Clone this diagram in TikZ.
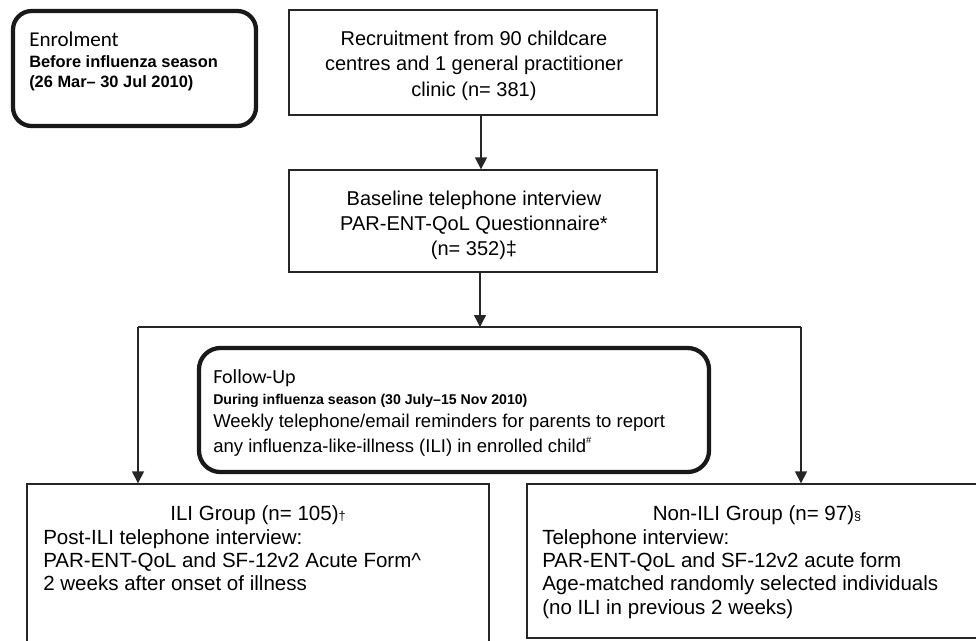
\documentclass[tikz,border=0pt]{standalone}
\usepackage{fontspec}
\setmainfont{Liberation Sans}
\newfontfamily\calib{Carlito}
\usetikzlibrary{arrows.meta,fit}
\tikzset{
  box/.style={draw=black!85, line width=1pt, inner sep=0pt},
  rbox/.style={draw=black!90, line width=3.2pt, rounded corners=14pt, inner sep=0pt},
  arr/.style={draw=black!85, line width=1pt, -{Triangle[width=9pt,length=9pt]}},
  ln/.style={draw=black!85, line width=1pt},
  tx/.style={inner sep=0pt, font=\fontsize{15}{18}\selectfont},
  txs/.style={inner sep=0pt, font=\fontsize{15.4}{18}\selectfont},
  txf/.style={inner sep=0pt, font=\fontsize{13.9}{17}\selectfont},
  hd/.style={inner sep=0pt, font=\calib\fontsize{15.8}{18}\selectfont},
  bd/.style={inner sep=0pt, font=\bfseries\fontsize{12.3}{15}\selectfont},
  bds/.style={inner sep=0pt, font=\bfseries\fontsize{10.6}{13}\selectfont}
}
\newcommand{\smallmark}[1]{{\fontsize{9.5}{10}\selectfont #1}}
\begin{document}
\begin{tikzpicture}[x=0.75pt,y=-0.75pt]
\useasboundingbox (0,0) rectangle (976,640);
% boxes
\node[rbox, fit={(13,11) (256,126)}] (enrol) {};
\node[box, fit={(289,10) (657,115)}] (recruit) {};
\node[box, fit={(289,170) (657,272)}] (base) {};
\node[rbox, rounded corners=16pt, fit={(199,348) (709,472)}] (follow) {};
\node[box, fit={(27,484) (489,690)}] (ili) {};
\node[box, fit={(527,484) (995,638)}] (nonili) {};
% connectors
\coordinate (c1) at (481,0);
\coordinate (splitL) at (138,327);
\coordinate (splitM) at (480,327);
\coordinate (splitR) at (801,327);
\draw[arr] (recruit.south -| c1) -- (base.north -| c1);
\draw[arr] (base.south -| splitM) -- (splitM);
\draw[ln] (splitL) -- (splitR);
\draw[arr] (splitL) -- (ili.north -| splitL);
\draw[arr] (splitR) -- (nonili.north -| splitR);
% enrolment text
\node[hd, anchor=base west] (en1) at (29,46) {Enrolment};
\node[bd, anchor=base west] (en2) at (29,67) {Before influenza season};
\node[bd, anchor=base west] (en3) at (29,87) {(26 Mar– 30 Jul 2010)};
% recruitment text
\node[tx, anchor=base] (r1) at (474,45) {Recruitment from 90 childcare};
\node[tx, anchor=base] (r2) at (474,70.5) {centres and 1 general practitioner};
\node[tx, anchor=base] (r3) at (474,96) {clinic (n= 381)};
% baseline text
\node[tx, anchor=base] (b1) at (474,205) {Baseline telephone interview};
\node[tx, anchor=base] (b2) at (474,230) {PAR-ENT-QoL Questionnaire*};
\node[tx, anchor=base] (b3) at (474,255) {(n= 352)‡};
% follow-up text
\node[hd, font=\calib\fontsize{15}{18}\selectfont, anchor=base west] (f1) at (213,383) {Follow-Up};
\node[bds, anchor=base west] (f2) at (213,404) {During influenza season (30 July–15 Nov 2010)};
\node[txf, anchor=base west] (f3) at (213,427) {Weekly telephone/email reminders for parents to report};
\node[txf, anchor=base west] (f4) at (213,452) {any influenza-like-illness (ILI) in enrolled child\raisebox{0.45em}{\fontsize{7}{8}\selectfont\#}};
% ILI text
\node[txs, anchor=base] (i1) at (258,520) {ILI Group (n= 105)\smallmark{†}};
\node[txs, anchor=base west] (i2) at (43,544) {Post-ILI telephone interview:};
\node[txs, anchor=base west] (i3) at (43,567) {PAR-ENT-QoL and SF-12v2 Acute Form\^{}};
\node[txs, anchor=base west] (i4) at (43,590) {2 weeks after onset of illness};
% Non-ILI text
\node[txs, anchor=base] (n1) at (757,520) {Non-ILI Group (n= 97)\smallmark{§}};
\node[txs, anchor=base west] (n2) at (542,544) {Telephone interview:};
\node[txs, anchor=base west] (n3) at (542,567) {PAR-ENT-QoL and SF-12v2 acute form};
\node[txs, anchor=base west] (n4) at (542,590) {Age-matched randomly selected individuals};
\node[txs, anchor=base west] (n5) at (542,614) {(no ILI in previous 2 weeks)};
\end{tikzpicture}
\end{document}
